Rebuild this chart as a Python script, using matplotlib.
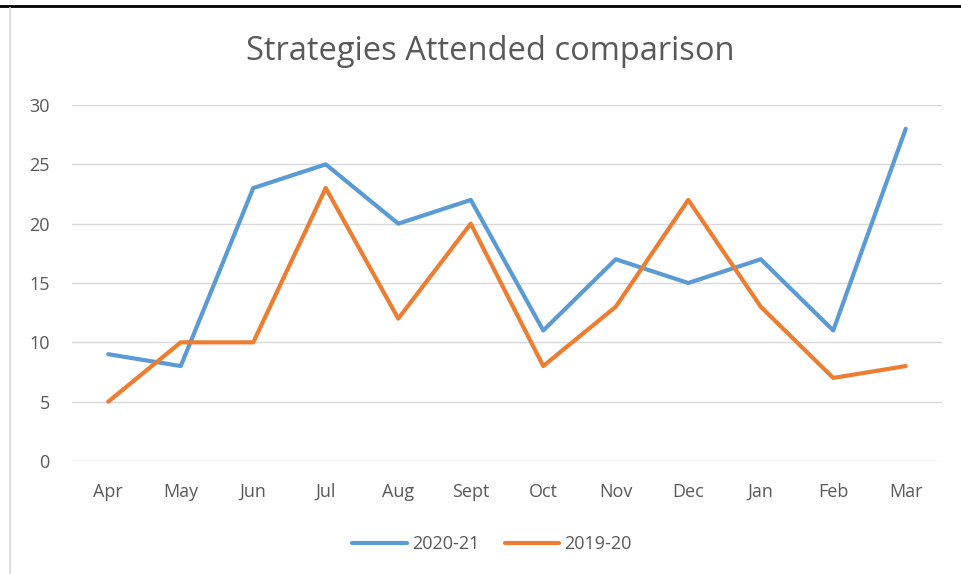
import matplotlib.pyplot as plt
from matplotlib.lines import Line2D

months = ["Apr", "May", "Jun", "Jul", "Aug", "Sept", "Oct", "Nov", "Dec", "Jan", "Feb", "Mar"]
y2020_21 = [9, 8, 23, 25, 20, 22, 11, 17, 15, 17, 11, 28]
y2019_20 = [5, 10, 10, 23, 12, 20, 8, 13, 22, 13, 7, 8]

plt.rcParams['font.family'] = ['Open Sans', 'DejaVu Sans']
grey = "#595959"

fig = plt.figure(figsize=(9.62, 5.74), dpi=100)
ax = fig.add_axes([72 / 962, 1 - 461 / 574, 870 / 962, 356 / 574])

x = range(len(months))
ax.plot(x, y2020_21, color="#5B9BD5", lw=3, label="2020-21", solid_joinstyle="round", solid_capstyle="round")
ax.plot(x, y2019_20, color="#ED7D31", lw=3, label="2019-20", solid_joinstyle="round", solid_capstyle="round")

ax.set_xlim(-0.5, len(months) - 0.5)
ax.set_ylim(0, 30)
ax.set_yticks(range(0, 31, 5))
ax.set_xticks(list(x))
ax.set_xticklabels(months)
ax.grid(axis="y", color="#D9D9D9", lw=1)
ax.set_axisbelow(True)
for s in ax.spines.values():
    s.set_visible(False)
ax.tick_params(length=0, colors=grey, labelsize=13)
ax.tick_params(axis="y", pad=16)
ax.tick_params(axis="x", pad=15.5)

fig.text(490 / 962, 1 - 52 / 574, "Strategies Attended comparison", ha="center", va="center",
         fontsize=23.5, color=grey)

fig.legend(loc="center", bbox_to_anchor=(492 / 962, 1 - 544 / 574), ncol=2, frameon=False,
           fontsize=13, labelcolor=grey, handlelength=3.0, handletextpad=0.3, columnspacing=1.4)

# frame lines from the screenshot
fig.add_artist(Line2D([0, 1], [1 - 6 / 574, 1 - 6 / 574], color="black", lw=2))
fig.add_artist(Line2D([10 / 962, 10 / 962], [0, 1 - 8 / 574], color="#D9D9D9", lw=1.2))

fig.savefig("out.png", dpi=100)
